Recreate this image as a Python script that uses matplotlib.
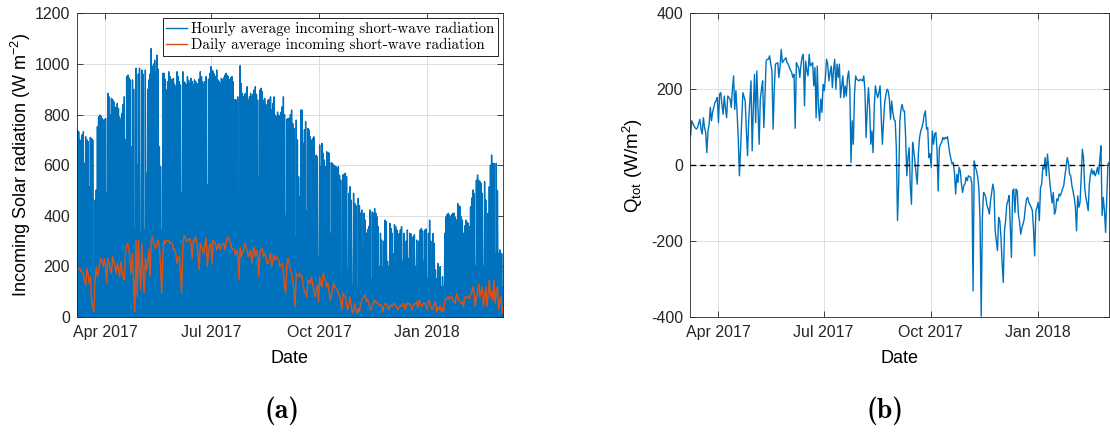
import numpy as np
import matplotlib.pyplot as plt
import matplotlib.dates as mdates

plt.rcParams['font.family'] = 'Liberation Sans'
plt.rcParams['axes.unicode_minus'] = False
plt.rcParams['mathtext.fontset'] = 'custom'
plt.rcParams['mathtext.rm'] = 'Liberation Sans'
plt.rcParams['mathtext.it'] = 'Liberation Sans:italic'

# first day of the record
start_date = '2017-03-08'

# daily peak of the hourly incoming short-wave radiation (W m-2)
hourly_peak = [
    739, 732, 700, 686, 720, 732, 607, 712, 700, 693,
    515, 710, 706, 700, 60, 462, 502, 752, 791, 798,
    795, 785, 778, 780, 785, 489, 884, 870, 798, 864,
    860, 851, 824, 830, 844, 824, 790, 778, 805, 840,
    870, 700, 950, 956, 945, 937, 673, 937, 900, 344,
    983, 600, 960, 983, 330, 976, 960, 344, 976, 568,
    900, 937, 960, 1061, 989, 1000, 1015, 969, 1035, 980,
    673, 594, 344, 963, 963, 940, 897, 930, 969, 950,
    940, 937, 943, 920, 910, 969, 950, 930, 917, 489,
    969, 930, 925, 917, 950, 935, 923, 943, 930, 917,
    937, 930, 923, 897, 940, 969, 950, 930, 917, 930,
    950, 522, 940, 963, 989, 975, 969, 960, 950, 976,
    937, 930, 923, 943, 937, 945, 956, 963, 955, 950,
    937, 945, 950, 930, 857, 860, 857, 870, 500, 993,
    923, 884, 870, 880, 884, 910, 857, 870, 884, 870,
    880, 897, 910, 880, 857, 550, 897, 904, 890, 857,
    864, 840, 805, 857, 860, 870, 818, 844, 870, 798,
    791, 810, 798, 791, 810, 831, 870, 800, 400, 780,
    785, 785, 800, 818, 765, 745, 317, 778, 700, 554,
    475, 818, 818, 686, 740, 772, 420, 745, 739, 712,
    699, 705, 712, 380, 640, 633, 238, 680, 594, 686,
    647, 620, 594, 653, 650, 647, 330, 610, 607, 600,
    597, 594, 587, 594, 560, 541, 150, 561, 565, 568,
    554, 180, 489, 515, 462, 120, 489, 449, 440, 110,
    469, 440, 410, 423, 250, 410, 383, 331, 345, 357,
    423, 150, 415, 410, 429, 410, 396, 357, 200, 331,
    304, 199, 300, 383, 377, 220, 200, 370, 350, 331,
    250, 365, 357, 344, 180, 330, 344, 357, 220, 331,
    252, 300, 344, 230, 331, 328, 200, 317, 325, 200,
    304, 180, 300, 344, 350, 340, 220, 344, 348, 150,
    331, 383, 300, 150, 330, 290, 186, 150, 212, 150,
    199, 120, 159, 120, 331, 396, 405, 410, 403, 396,
    405, 410, 410, 395, 383, 449, 440, 436, 396, 383,
    331, 360, 383, 375, 370, 357, 436, 470, 502, 489,
    200, 541, 561, 540, 535, 528, 489, 200, 535, 462,
    180, 410, 515, 600, 640, 607, 607, 250, 607, 500,
    252, 265, 252, 120, 250,
]

# daily average incoming short-wave radiation (W m-2)
daily_mean = [
    186, 190, 192, 180, 178, 173, 140, 126, 192, 170,
    133, 159, 60, 40, 21, 146, 199, 159, 180, 212,
    232, 215, 199, 232, 200, 133, 232, 212, 190, 173,
    238, 219, 200, 173, 212, 190, 159, 219, 179, 160,
    146, 250, 284, 291, 265, 220, 173, 252, 120, 21,
    304, 80, 304, 200, 107, 291, 180, 94, 232, 186,
    220, 265, 159, 300, 317, 290, 280, 271, 290, 304,
    277, 200, 94, 250, 304, 291, 300, 304, 304, 291,
    295, 291, 265, 270, 252, 212, 232, 240, 180, 94,
    280, 324, 317, 298, 305, 304, 311, 290, 232, 304,
    300, 317, 291, 250, 186, 291, 277, 265, 252, 291,
    311, 200, 258, 280, 291, 212, 304, 295, 291, 265,
    280, 291, 265, 284, 290, 291, 265, 290, 311, 317,
    300, 291, 265, 270, 265, 245, 265, 250, 146, 277,
    238, 255, 265, 291, 280, 265, 238, 250, 265, 212,
    250, 277, 238, 265, 240, 159, 258, 265, 271, 238,
    252, 240, 212, 212, 230, 252, 199, 230, 245, 225,
    238, 230, 225, 199, 205, 212, 173, 120, 94, 212,
    232, 210, 186, 173, 150, 100, 41, 173, 165, 159,
    173, 165, 159, 120, 107, 90, 80, 146, 140, 133,
    159, 130, 100, 80, 110, 126, 60, 159, 130, 120,
    173, 160, 146, 120, 133, 100, 67, 80, 110, 133,
    120, 115, 107, 94, 80, 67, 28, 94, 85, 80,
    50, 28, 54, 80, 40, 14, 28, 54, 30, 14,
    34, 21, 50, 67, 75, 80, 87, 60, 70, 54,
    30, 28, 45, 60, 67, 55, 60, 54, 45, 50,
    41, 20, 45, 54, 50, 40, 28, 45, 47, 40,
    50, 54, 45, 35, 28, 40, 45, 41, 50, 54,
    30, 45, 54, 54, 50, 40, 28, 45, 54, 50,
    60, 35, 67, 55, 41, 50, 54, 54, 40, 28,
    67, 60, 40, 28, 35, 50, 61, 20, 40, 28,
    45, 21, 35, 20, 67, 70, 75, 80, 70, 80,
    80, 65, 60, 54, 94, 80, 67, 60, 54, 60,
    40, 80, 75, 80, 80, 70, 90, 94, 120, 100,
    41, 80, 94, 133, 80, 100, 120, 41, 80, 120,
    41, 90, 146, 80, 100, 67, 146, 54, 100, 120,
    28, 60, 80, 14, 40,
]

# daily total heat flux Q_tot (W/m2)
q_tot = [
    77, 117, 110, 103, 98, 95, 99, 110, 121, 95,
    82, 125, 100, 86, 33, 90, 108, 152, 117, 140,
    152, 165, 170, 178, 112, 187, 191, 160, 134, 182,
    150, 125, 182, 178, 174, 152, 200, 235, 147, 196,
    140, 73, -28, 40, 120, 191, 180, 169, 90, 25,
    117, 170, 222, 38, 150, 239, 112, 248, 150, 55,
    174, 200, 222, 99, 180, 274, 279, 279, 288, 266,
    250, 95, 200, 266, 268, 270, 231, 260, 305, 270,
    275, 279, 283, 270, 266, 257, 250, 244, 231, 239,
    97, 270, 262, 257, 231, 266, 285, 292, 156, 274,
    250, 235, 292, 261, 265, 270, 209, 257, 125, 261,
    150, 117, 174, 139, 213, 196, 231, 279, 266, 222,
    245, 261, 204, 253, 279, 200, 266, 231, 266, 178,
    210, 235, 178, 209, 182, 231, 248, 200, 7, 117,
    55, 187, 235, 226, 224, 222, 226, 224, 222, 235,
    196, 73, 150, 204, 152, 55, 90, 33, 152, 209,
    190, 178, 191, 209, 125, 55, 117, 165, 185, 200,
    196, 174, 121, 169, 139, 120, 117, 46, -146, -50,
    117, 147, 160, 143, 143, 73, -28, 20, 46, -54,
    -103, 60, 38, 10, -24, -50, 33, 73, 90, 99,
    112, 134, 143, 95, 99, 20, 30, -6, 90, 55,
    82, 86, 38, -68, 46, 55, 60, 73, 68, 73,
    70, 75, 51, 29, 16, 3, 7, -20, -76, -24,
    -46, -6, -15, -50, -72, -54, -50, -32, -41, -28,
    -30, -32, -50, -331, 11, -6, -15, -32, -60, -146,
    -398, -138, -72, -76, -85, -107, -115, -129, -94, -72,
    -50, -68, -173, -200, -225, -138, -146, -190, -260, -309,
    -173, -146, -103, -94, -80, -164, -243, -68, -63, -125,
    -63, -68, -129, -150, -182, -165, -155, -142, -111, -89,
    -85, -98, -105, -111, -120, -168, -239, -120, -111, -98,
    -146, -59, -50, -6, -10, 20, -28, 29, -6, -45,
    -72, -100, -72, -129, -120, -89, -94, -76, -81, -72,
    -62, -54, -28, -6, 20, 7, -24, -28, -54, -70,
    -85, -111, -173, -81, -111, -98, -32, 42, 20, -59,
    -85, -100, -120, -50, -24, -10, -24, -15, -28, -20,
    -6, -24, 16, 51, -133, -85, -120, -177, -85, 3,
    7,
]

tick_dates = ['2017-04-01', '2017-07-01', '2017-10-01', '2018-01-01']

blue = '#0072BD'
orange = '#D95319'
axis_col = '#262626'

t0 = np.datetime64(start_date + 'T00:00')
one_day = np.timedelta64(1440, 'm')
noon = np.timedelta64(720, 'm')

# hourly record: zero at night, daily maximum around noon
n = len(hourly_peak)
t_hourly = np.empty(2 * n + 1, dtype='datetime64[m]')
t_hourly[0::2] = t0 + np.arange(n + 1) * one_day
t_hourly[1::2] = t0 + np.arange(n) * one_day + noon
sw_hourly = np.zeros(2 * n + 1)
sw_hourly[1::2] = hourly_peak

t_daily = t0 + np.arange(len(daily_mean)) * one_day + noon
t_q = t0 + np.arange(len(q_tot)) * one_day + noon

fig = plt.figure(figsize=(11.1, 4.32), dpi=100)
ax1 = fig.add_axes([0.0693, 0.2662, 0.3836, 0.703])
ax2 = fig.add_axes([0.6216, 0.2662, 0.3778, 0.703])

# dense hourly trace looks like a solid band
ax1.fill_between(t_hourly, 0, sw_hourly, color=blue, lw=0)
ax1.plot(t_hourly, sw_hourly, color=blue, lw=1.0,
         label='Hourly average incoming short-wave radiation')
ax1.plot(t_daily, daily_mean, color=orange, lw=1.0,
         label='Daily average incoming short-wave radiation')
ax1.set_ylim(0, 1200)
ax1.set_yticks(np.arange(0, 1201, 200))
ax1.set_xlim(t0, t0 + 364 * one_day)
ax1.set_ylabel(r'Incoming Solar radiation (W m$^{\mathregular{-2}}$)', fontsize=13)
ax1.yaxis.set_label_coords(-0.103, 0.5)
leg = ax1.legend(loc='upper right', prop={'family': 'cmr10', 'size': 10.8},
                 fancybox=False, edgecolor='k', framealpha=1,
                 borderaxespad=0.3, borderpad=0.25, labelspacing=0.15,
                 handlelength=1.4, handletextpad=0.25)
leg.get_frame().set_linewidth(0.6)

ax2.plot(t_q, q_tot, color=blue, lw=1.0)
ax2.axhline(0, color='k', ls='--', lw=1.0, dashes=(4, 3))
ax2.set_ylim(-400, 400)
ax2.set_yticks(np.arange(-400, 401, 200))
ax2.set_xlim(t0, t0 + np.timedelta64(8657, 'h'))
ax2.set_ylabel(r'Q$_{\mathregular{tot}}$ (W/m$^{\mathregular{2}}$)', fontsize=13.5)
ax2.yaxis.set_label_coords(-0.107, 0.5)

for ax in (ax1, ax2):
    ax.set_xticks([np.datetime64(d) for d in tick_dates])
    ax.xaxis.set_major_formatter(mdates.DateFormatter('%b %Y'))
    ax.set_xlabel('Date', fontsize=13)
    ax.xaxis.set_label_coords(0.5, -0.108)
    ax.grid(True, color='#dedede', lw=0.7)
    ax.set_axisbelow(True)
    ax.tick_params(direction='in', top=True, right=True, length=4, width=0.6,
                   colors=axis_col, labelsize=11.5)
    ax.tick_params(axis='x', pad=6)
    ax.tick_params(axis='y', pad=5)
    for sp in ax.spines.values():
        sp.set_color(axis_col)
        sp.set_linewidth(0.6)

fig.text(0.254, 0.049, '(a)', family='cmb10', fontsize=20, ha='center', va='center')
fig.text(0.797, 0.049, '(b)', family='cmb10', fontsize=20, ha='center', va='center')

fig.savefig('out.png', dpi=100)
